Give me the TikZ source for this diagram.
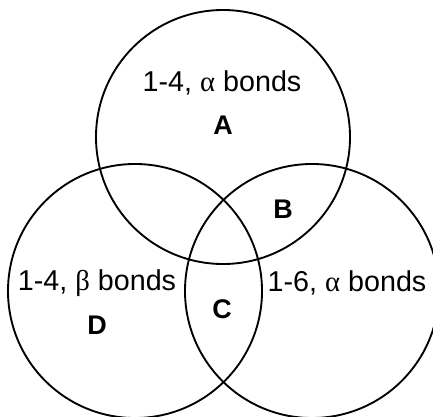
\documentclass[tikz,border=0pt]{standalone}
\usepackage{fontspec}
\setmainfont{Liberation Sans}
\newfontfamily\grk{Liberation Serif}
\usepackage{tikz}
\tikzset{
  venn/.style={circle, draw=black, line width=1.6pt, minimum size=7.62cm,
               inner sep=0pt},
  etiq/.style={font=\fontsize{24.5}{28}\selectfont, inner sep=0pt},
  region/.style={font=\fontsize{23}{26}\selectfont\bfseries, inner sep=0pt}
}
\begin{document}
\begin{tikzpicture}[x=0.03cm, y=-0.03cm]
  \useasboundingbox (0,0) rectangle (433,416);
  % circles
  \node[venn] (cA) at (223,137) {};
  \node[venn] (cD) at (135,291) {};
  \node[venn] (cR) at (312,291) {};
  % texts
  \node[etiq] (tA) at (222,83) {1-4, {\grk α} bonds};
  \node[etiq] (tD) at (97,283) {1-4, {\grk β} bonds};
  \node[etiq] (tR) at (347,283) {1-6, {\grk α} bonds};
  \node[region] (rA) at (223,125) {A};
  \node[region] (rB) at (283,209) {B};
  \node[region] (rC) at (222,309) {C};
  \node[region] (rD) at (97,325) {D};
\end{tikzpicture}
\end{document}
